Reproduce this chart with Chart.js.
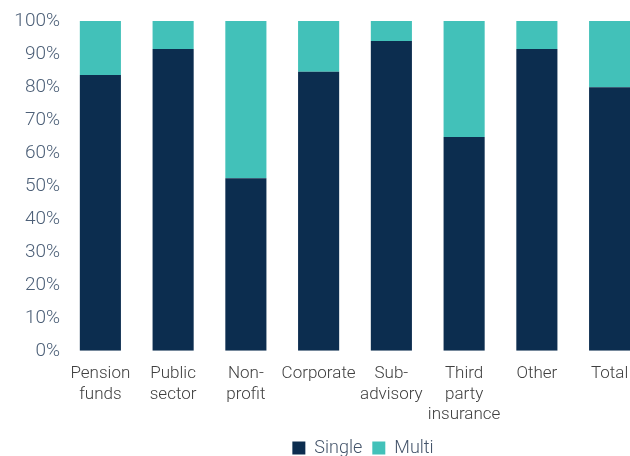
<!DOCTYPE html>
<html>
<head>
<meta charset="utf-8">
<script src="https://cdn.jsdelivr.net/npm/chart.js@4.4.0/dist/chart.umd.min.js"></script>
<style>
  html, body { margin: 0; padding: 0; background: #fff; overflow: hidden; }
  #wrap { width: 630px; height: 456px; overflow: hidden; }
  canvas { display: block; }
</style>
</head>
<body>
<div id="wrap"><canvas id="mixChart" width="646" height="466"></canvas></div>
<script>
// Chart data
const categories = [
    ['Pension', 'funds'],
    ['Public', 'sector'],
    ['Non-', 'profit'],
    'Corporate',
    ['Sub-', 'advisory'],
    ['Third', 'party', 'insurance'],
    'Other',
    'Total'
];
const singleShare = [83.6, 91.5, 52.3, 84.6, 93.9, 64.8, 91.5, 79.9];
const multiShare = [16.4, 8.5, 47.7, 15.4, 6.1, 35.2, 8.5, 20.1];
const yTicks = [0, 10, 20, 30, 40, 50, 60, 70, 80, 90, 100];

const navy = '#0c2d4f';
const teal = '#42c1b9';
const fontFamily = 'Roboto, "Open Sans", sans-serif';

// Move the legend so it sits where the original had it
const legendShift = {
    id: 'legendShift',
    afterLayout(chart) {
        const lg = chart.legend;
        if (!lg) return;
        lg.left += 40; lg.right += 40;
        lg.top += 1; lg.bottom += 1;
    }
};

function initMixChart() {
    const ctx = document.getElementById('mixChart').getContext('2d');

    new Chart(ctx, {
        type: 'bar',
        data: {
            labels: categories,
            datasets: [{
                label: 'Single',
                data: singleShare,
                backgroundColor: navy,
                borderWidth: 0,
                barPercentage: 0.565,
                categoryPercentage: 1
            }, {
                label: 'Multi',
                data: multiShare,
                backgroundColor: teal,
                borderWidth: 0,
                barPercentage: 0.565,
                categoryPercentage: 1
            }]
        },
        options: {
            responsive: false,
            animation: false,
            devicePixelRatio: 1,
            layout: {
                padding: { top: 21, right: 0, bottom: 0, left: 0 }
            },
            plugins: {
                tooltip: { enabled: false },
                legend: {
                    display: true,
                    position: 'bottom',
                    labels: {
                        boxWidth: 13,
                        boxHeight: 13,
                        padding: 10,
                        color: '#44546a',
                        font: { family: fontFamily, size: 18, weight: 300 }
                    }
                }
            },
            scales: {
                x: {
                    stacked: true,
                    afterFit: function(scale) {
                        scale.height -= 10;
                    },
                    grid: { display: false, drawTicks: false },
                    border: { display: false },
                    ticks: {
                        color: '#404040',
                        padding: 13,
                        maxRotation: 0,
                        autoSkip: false,
                        font: { family: fontFamily, size: 17, weight: 300, lineHeight: 1.2 }
                    }
                },
                y: {
                    stacked: true,
                    min: 0,
                    max: 100,
                    afterBuildTicks: function(scale) {
                        scale.ticks = yTicks.map(v => ({ value: v }));
                    },
                    afterFit: function(scale) {
                        scale.width = 64;
                    },
                    grid: { display: false, drawTicks: false },
                    border: { display: false },
                    ticks: {
                        color: '#4d6078',
                        padding: 4,
                        font: { family: fontFamily, size: 19, weight: 300 },
                        callback: function(value) { return value + '%'; }
                    }
                }
            }
        },
        plugins: [legendShift]
    });
}

initMixChart();
</script>
</body>
</html>
